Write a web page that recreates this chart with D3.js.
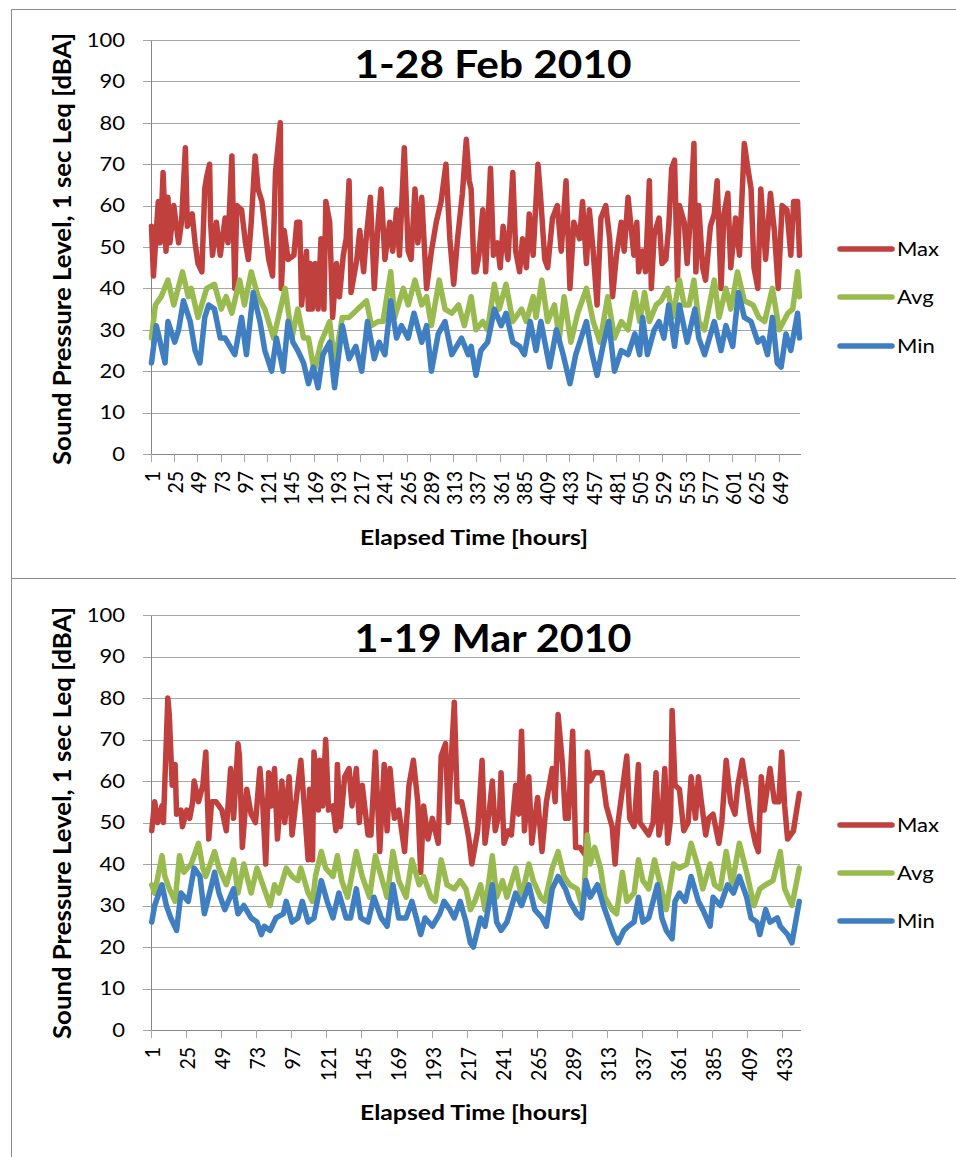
<!DOCTYPE html>
<html>
<head>
<meta charset="utf-8">
<script src="https://cdn.jsdelivr.net/npm/d3@7"></script>
<style>
  html, body { margin: 0; padding: 0; background: #fff; }
  svg { display: block; }
  text { font-family: Lato, 'Open Sans', sans-serif; fill: #000; }
</style>
</head>
<body>
<svg width="956" height="1157"></svg>
<script>
'use strict';

const seriesNames = ['Max', 'Avg', 'Min'];
const seriesColors = ['#C0403E', '#99BA4E', '#3F7EC0'];
const yTicks = [0, 10, 20, 30, 40, 50, 60, 70, 80, 90, 100];
const yTitle = 'Sound Pressure Level, 1 sec Leq [dBA]';
const xTitle = 'Elapsed Time [hours]';

// February: [hour, dBA]
const febTitle = '1-28 Feb 2010';
const febHourCount = 670;
const febTickLabels = [1, 25, 49, 73, 97, 121, 145, 169, 193, 217, 241, 265, 289, 313,
  337, 361, 385, 409, 433, 457, 481, 505, 529, 553, 577, 601, 625, 649];
const febMax = [[1,55],[3,43],[8,61],[10,51],[13,68],[16,49],[18,62],[20,51],[24,60],[29,51],[32,56],[36,74],[38,55],[43,58],[46,51],[49,46],[53,44],[56,64],[58,67],[61,70],[62,56],[64,48],[68,56],[72,48],[77,57],[80,51],[84,72],[87,40],[89,60],[94,59],[98,51],[101,47],[104,56],[108,72],[111,64],[115,61],[118,55],[122,47],[126,43],[129,68],[134,80],[135,40],[138,54],[142,47],[148,48],[151,56],[154,56],[156,36],[161,49],[163,35],[165,46],[167,35],[170,46],[173,35],[176,52],[179,35],[181,61],[185,56],[188,33],[192,46],[195,38],[199,48],[202,52],[205,66],[207,39],[213,47],[216,54],[220,44],[223,53],[227,62],[231,40],[235,56],[238,64],[242,47],[247,56],[250,49],[254,59],[257,48],[262,74],[266,49],[269,47],[273,64],[276,51],[280,62],[285,40],[290,49],[295,56],[300,61],[305,70],[309,52],[313,41],[317,52],[322,63],[326,76],[329,66],[331,64],[334,44],[336,44],[339,48],[343,59],[346,44],[351,69],[354,48],[358,51],[361,45],[364,55],[369,47],[374,68],[377,49],[381,44],[384,52],[388,45],[391,58],[395,48],[400,70],[403,61],[407,47],[410,45],[415,57],[420,60],[424,49],[429,66],[433,40],[437,56],[443,52],[446,61],[450,46],[453,59],[457,49],[461,36],[465,57],[470,60],[474,52],[477,38],[481,48],[486,56],[489,49],[493,62],[496,55],[499,48],[502,56],[504,44],[508,49],[511,44],[515,66],[517,40],[520,53],[525,57],[528,46],[532,47],[535,55],[538,69],[541,71],[544,42],[546,60],[551,56],[554,46],[557,56],[561,75],[563,44],[566,60],[570,45],[573,42],[578,55],[582,58],[585,66],[589,40],[592,58],[596,63],[599,45],[604,57],[608,48],[613,75],[616,70],[620,64],[623,45],[627,40],[630,64],[635,47],[640,63],[644,54],[648,40],[652,60],[657,59],[661,48],[664,61],[668,61],[670,48]];
const febAvg = [[1,28],[5,36],[11,38],[18,42],[24,36],[33,44],[39,38],[42,40],[49,33],[58,40],[66,41],[73,35],[78,38],[84,34],[92,42],[97,36],[104,44],[111,38],[118,35],[127,28],[139,40],[146,28],[152,35],[158,28],[163,28],[169,20],[176,27],[185,32],[190,22],[198,33],[205,33],[214,35],[223,37],[228,31],[235,32],[240,32],[248,44],[252,33],[261,40],[266,36],[273,42],[280,36],[285,38],[290,31],[298,42],[304,35],[311,34],[318,36],[324,31],[331,38],[336,30],[343,32],[348,30],[355,41],[360,35],[367,41],[374,32],[383,35],[388,32],[395,38],[398,33],[404,42],[410,32],[417,36],[422,28],[427,38],[434,27],[441,34],[450,40],[457,32],[464,27],[472,38],[479,28],[486,32],[493,30],[500,39],[505,32],[510,39],[515,32],[522,36],[527,37],[534,40],[539,33],[546,42],[551,36],[556,36],[561,42],[566,32],[572,30],[582,42],[587,33],[594,40],[599,35],[606,44],[613,37],[622,36],[628,33],[634,32],[642,40],[649,30],[658,34],[663,35],[668,44],[670,38]];
const febMin = [[1,22],[6,31],[10,27],[15,22],[18,32],[25,27],[29,30],[34,37],[41,32],[46,25],[51,22],[56,33],[60,36],[66,35],[72,28],[77,28],[87,24],[94,33],[99,24],[106,39],[113,32],[118,25],[125,20],[130,28],[137,20],[142,32],[147,27],[152,25],[158,22],[163,17],[168,21],[173,16],[178,24],[185,27],[190,16],[198,31],[205,23],[212,26],[218,20],[224,32],[231,23],[236,27],[242,24],[248,37],[254,28],[259,31],[266,28],[272,34],[280,27],[285,31],[290,20],[297,29],[304,32],[311,24],[321,28],[328,24],[331,26],[336,19],[341,25],[348,27],[355,35],[362,31],[367,34],[374,27],[381,26],[386,24],[392,32],[398,25],[403,32],[412,21],[419,30],[426,24],[433,17],[439,24],[450,32],[455,25],[461,19],[467,26],[473,32],[479,20],[486,25],[493,24],[500,29],[505,24],[508,33],[513,24],[520,30],[525,32],[530,28],[535,36],[541,26],[546,36],[554,27],[562,35],[566,28],[572,24],[582,32],[589,25],[594,31],[601,26],[607,39],[613,33],[620,32],[627,27],[632,28],[637,24],[642,33],[647,22],[651,21],[656,29],[661,25],[668,34],[670,28]];

// March: [hour, dBA]
const marTitle = '1-19 Mar 2010';
const marHourCount = 444;
const marTickLabels = [1, 25, 49, 73, 97, 121, 145, 169, 193, 217, 241, 265, 289, 313,
  337, 361, 385, 409, 433];
const marMax = [[1,48],[3,55],[5,50],[8,54],[9,50],[12,80],[13,76],[15,59],[17,64],[18,52],[21,53],[22,49],[25,53],[27,51],[29,55],[30,60],[33,55],[36,59],[38,67],[40,46],[42,55],[45,55],[49,53],[52,48],[55,63],[57,51],[60,69],[61,66],[63,44],[66,58],[69,52],[72,50],[75,63],[77,54],[79,40],[81,62],[83,54],[85,63],[87,46],[90,60],[92,50],[95,61],[97,47],[100,56],[103,65],[106,51],[108,41],[109,58],[111,41],[112,67],[115,53],[116,65],[118,54],[120,70],[122,53],[125,54],[127,48],[128,64],[130,49],[133,61],[136,63],[138,54],[141,63],[143,50],[145,59],[149,47],[151,47],[154,67],[157,43],[160,64],[162,48],[164,63],[167,51],[170,53],[174,43],[177,59],[180,65],[183,55],[185,38],[187,54],[190,46],[193,51],[197,45],[199,66],[202,69],[204,50],[205,59],[208,79],[210,55],[213,55],[216,50],[218,46],[220,40],[221,42],[224,48],[227,65],[229,45],[232,53],[234,60],[236,48],[239,53],[240,62],[242,45],[245,48],[247,47],[250,59],[252,52],[254,72],[256,48],[259,61],[261,45],[265,56],[268,43],[271,55],[275,63],[277,55],[279,76],[282,64],[284,51],[286,51],[289,72],[291,44],[294,44],[298,42],[299,67],[301,60],[304,62],[309,62],[312,54],[316,49],[318,40],[320,50],[323,58],[326,66],[328,51],[331,49],[334,64],[335,50],[337,49],[341,47],[344,50],[346,62],[348,47],[350,51],[352,63],[354,45],[356,51],[357,77],[359,59],[362,58],[365,48],[368,50],[370,61],[373,51],[375,61],[377,55],[380,47],[382,51],[385,52],[389,45],[391,50],[394,65],[397,55],[400,52],[402,59],[405,65],[408,58],[411,50],[414,45],[416,43],[418,61],[420,53],[424,63],[427,55],[430,55],[432,67],[434,54],[436,46],[440,48],[444,57]];
const marAvg = [[1,35],[3,33],[8,42],[10,37],[13,34],[17,31],[20,42],[23,38],[28,40],[33,45],[36,39],[38,37],[44,43],[47,39],[52,35],[57,41],[60,33],[64,40],[69,33],[73,39],[76,36],[78,34],[82,30],[85,35],[88,33],[93,39],[97,37],[101,36],[103,39],[108,33],[111,31],[113,37],[117,43],[120,39],[125,37],[128,42],[131,36],[135,32],[141,43],[145,37],[150,32],[154,42],[158,37],[162,32],[166,43],[170,36],[175,32],[179,41],[184,35],[187,37],[192,32],[195,31],[199,41],[203,35],[208,34],[212,36],[216,34],[219,29],[222,31],[226,35],[229,29],[234,42],[237,32],[241,36],[244,32],[250,39],[254,32],[259,40],[262,36],[267,32],[270,31],[275,39],[279,43],[283,37],[287,35],[292,34],[296,29],[299,47],[301,40],[304,44],[308,39],[311,32],[316,29],[319,28],[323,38],[326,31],[331,33],[334,41],[337,36],[341,34],[345,41],[349,35],[353,29],[358,40],[362,39],[367,40],[370,45],[375,39],[378,34],[383,40],[386,35],[390,34],[394,43],[398,35],[403,45],[408,38],[413,30],[417,34],[421,35],[426,36],[431,43],[434,34],[439,30],[444,39]];
const marMin = [[1,26],[3,30],[8,35],[11,30],[14,27],[18,24],[21,33],[26,31],[30,39],[34,37],[37,28],[42,35],[44,38],[47,33],[51,29],[57,34],[60,28],[64,30],[69,27],[73,26],[76,23],[78,25],[82,24],[86,27],[91,28],[93,31],[97,26],[101,27],[104,31],[108,26],[112,27],[117,36],[121,31],[125,27],[129,33],[134,27],[137,27],[141,34],[144,27],[149,26],[153,32],[158,27],[162,25],[166,35],[170,27],[175,27],[179,31],[185,23],[188,27],[193,25],[198,28],[201,31],[205,29],[208,27],[212,31],[216,26],[219,21],[221,20],[226,27],[229,25],[234,35],[237,26],[240,24],[244,26],[250,33],[254,30],[259,35],[263,29],[268,27],[271,25],[275,34],[279,37],[284,34],[287,31],[292,28],[295,27],[298,36],[301,32],[306,35],[310,30],[314,26],[317,23],[320,21],[324,24],[327,25],[331,26],[334,32],[337,26],[341,27],[347,35],[350,27],[353,24],[357,22],[359,31],[362,33],[366,31],[370,37],[375,31],[378,29],[383,25],[385,32],[390,30],[395,35],[399,33],[403,37],[408,32],[411,27],[415,26],[417,23],[421,29],[424,26],[429,27],[431,25],[436,23],[439,21],[444,31]];

// the picture is a bit wider than the fonts, so text gets stretched sideways
const SX = 1.13;
const tickFont = 19.5;
const gridColor = '#A6A6A6';
const axisColor = '#868686';

const svg = d3.select('svg');

function drawChart(layout, title, hourCount, tickLabels, series) {
  const g = svg.append('g');

  g.append('rect')
    .attr('x', 11.5)
    .attr('y', layout.boxTop)
    .attr('width', 1000)
    .attr('height', layout.boxHeight)
    .attr('fill', 'none')
    .attr('stroke', '#8C8C8C');

  const x = d3.scaleLinear()
    .domain([0.5, hourCount + 0.5])
    .range([151, 800]);
  const y = d3.scaleLinear()
    .domain([0, 100])
    .range([layout.plotBottom, layout.plotTop]);
  const halfCat = (x(2) - x(1)) / 2;

  // gridlines
  g.append('g')
    .attr('transform', 'translate(151,0)')
    .call(d3.axisRight(y).tickValues(yTicks).tickSize(649).tickFormat(''))
    .call(a => a.select('.domain').remove())
    .call(a => a.selectAll('line').attr('stroke', gridColor).attr('shape-rendering', 'crispEdges'));

  // y axis
  g.append('g')
    .attr('transform', 'translate(151,0)')
    .call(d3.axisLeft(y).tickValues(yTicks).tickSize(8).tickSizeOuter(0).tickPadding(18))
    .call(a => a.select('.domain').attr('stroke', axisColor).attr('shape-rendering', 'crispEdges'))
    .call(a => a.selectAll('line').attr('stroke', gridColor).attr('shape-rendering', 'crispEdges'))
    .call(a => a.selectAll('text')
      .attr('font-size', tickFont)
      .attr('font-family', null)
      .attr('x', -26 / SX)
      .attr('transform', `scale(${SX},1)`));

  // x axis: ticks between categories, labels on the category
  g.append('g')
    .attr('transform', `translate(0,${layout.plotBottom})`)
    .call(d3.axisBottom(x)
      .tickValues(tickLabels.map(h => h - 0.5))
      .tickFormat(d => d + 0.5)
      .tickSize(8)
      .tickSizeOuter(0))
    .call(a => a.select('.domain').attr('stroke', axisColor).attr('shape-rendering', 'crispEdges'))
    .call(a => a.selectAll('line').attr('stroke', gridColor).attr('shape-rendering', 'crispEdges'))
    .call(a => a.selectAll('text')
      .attr('font-size', tickFont)
      .attr('font-family', null)
      .attr('text-anchor', 'end')
      .attr('x', -17)
      .attr('y', halfCat / SX)
      .attr('dy', '0.36em')
      .attr('transform', `scale(${SX},1) rotate(-90)`));

  // series, Max first so Min ends on top
  const line = d3.line()
    .x(d => x(d[0]))
    .y(d => y(d[1]));

  g.append('g')
    .selectAll('path')
    .data(series)
    .enter().append('path')
      .attr('d', d => line(d))
      .attr('fill', 'none')
      .attr('stroke', (d, i) => seriesColors[i])
      .attr('stroke-width', 5.5)
      .attr('stroke-linejoin', 'round')
      .attr('stroke-linecap', 'round');

  // legend
  const legend = g.append('g')
    .selectAll('g')
    .data(seriesNames)
    .enter().append('g')
      .attr('transform', (d, i) => `translate(0,${layout.legendY[i]})`);
  legend.append('line')
    .attr('x1', 840)
    .attr('x2', 892)
    .attr('stroke', (d, i) => seriesColors[i])
    .attr('stroke-width', 5.5)
    .attr('stroke-linecap', 'round');
  legend.append('text')
    .attr('transform', `translate(897,0) scale(${SX},1)`)
    .attr('dy', '0.35em')
    .attr('font-size', tickFont)
    .text(d => d);

  // titles
  g.append('text')
    .attr('transform', `translate(493,${layout.titleY}) scale(${SX},1)`)
    .attr('text-anchor', 'middle')
    .attr('font-size', 38)
    .attr('font-weight', 'bold')
    .attr('textLength', 277 / SX)
    .attr('lengthAdjust', 'spacingAndGlyphs')
    .text(title);

  g.append('text')
    .attr('transform', `translate(474,${layout.xTitleY}) scale(${SX},1)`)
    .attr('text-anchor', 'middle')
    .attr('font-size', 20)
    .attr('font-weight', 'bold')
    .attr('textLength', 228 / SX)
    .attr('lengthAdjust', 'spacingAndGlyphs')
    .text(xTitle);

  g.append('text')
    .attr('transform', `translate(71,${layout.yTitleY}) scale(${SX},1) rotate(-90)`)
    .attr('text-anchor', 'middle')
    .attr('font-size', 22)
    .attr('font-weight', 'bold')
    .attr('textLength', 432)
    .attr('lengthAdjust', 'spacingAndGlyphs')
    .text(yTitle);
}

drawChart({
  boxTop: 9.5, boxHeight: 569, plotTop: 40, plotBottom: 454,
  titleY: 78, xTitleY: 545, yTitleY: 249, legendY: [249, 297, 346]
}, febTitle, febHourCount, febTickLabels, [febMax, febAvg, febMin]);

drawChart({
  boxTop: 578.5, boxHeight: 600, plotTop: 615, plotBottom: 1030,
  titleY: 652, xTitleY: 1120, yTitleY: 823, legendY: [825, 873, 921]
}, marTitle, marHourCount, marTickLabels, [marMax, marAvg, marMin]);
</script>
</body>
</html>
